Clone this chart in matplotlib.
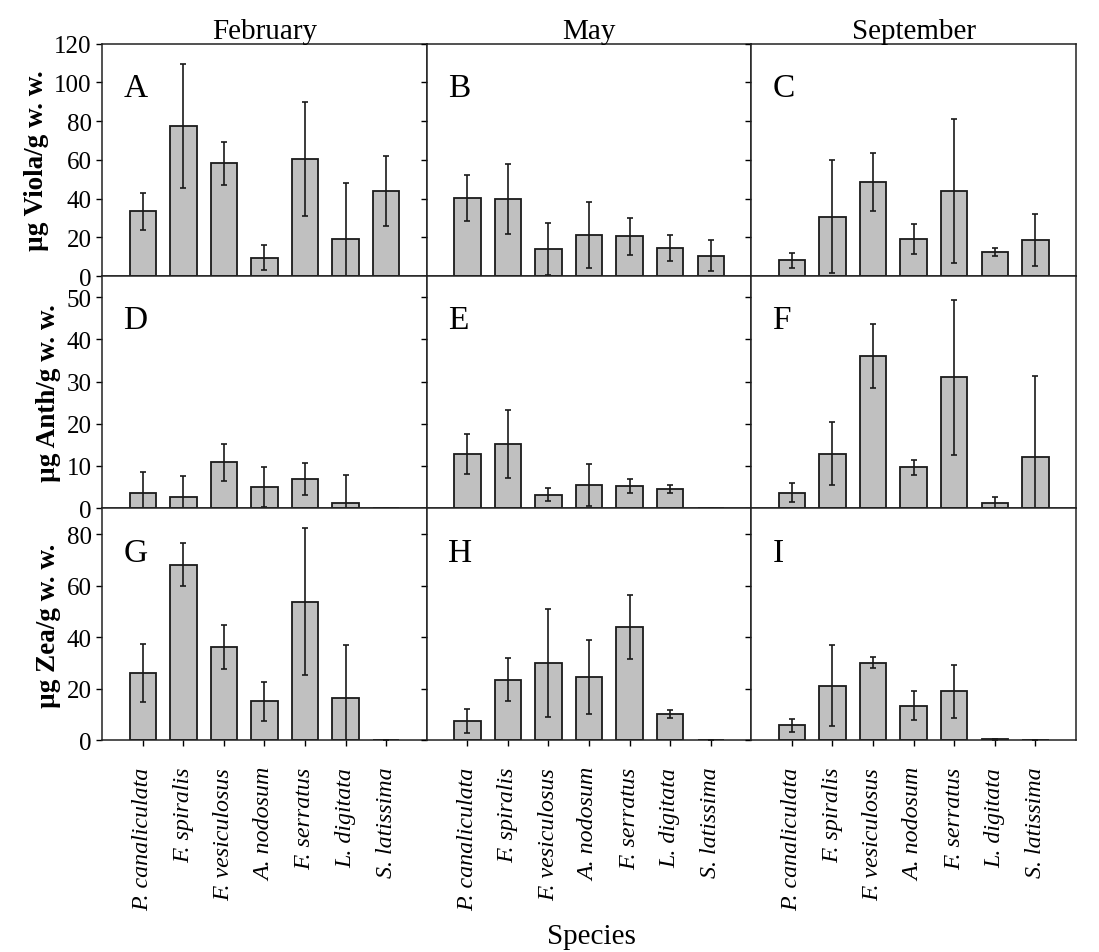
import numpy as np
import matplotlib.pyplot as plt

plt.rcParams.update({'font.family': ['Liberation Serif', 'DejaVu Serif'],
                     'font.size': 16,
                     'mathtext.fontset': 'stix'})

########################################
# DATA

species = ['P. canaliculata', 'F. spiralis', 'F. vesiculosus', 'A. nodosum',
           'F. serratus', 'L. digitata', 'S. latissima']
months = ['February', 'May', 'September']
pigments = ['Viola', 'Anth', 'Zea']
panel_letters = ['A', 'B', 'C', 'D', 'E', 'F', 'G', 'H', 'I']

# violaxanthin (row 1)
viola_feb = [33.5, 77.4, 58.2, 9.5, 60.4, 19.2, 43.9]
viola_feb_err = [9.5, 32.0, 11.0, 6.3, 29.5, 28.7, 17.9]
viola_may = [40.4, 39.7, 13.8, 21.2, 20.6, 14.5, 10.4]
viola_may_err = [12.0, 18.0, 13.5, 17.0, 9.6, 6.7, 8.0]
viola_sep = [8.1, 30.7, 48.7, 19.2, 43.9, 12.4, 18.5]
viola_sep_err = [4.0, 29.0, 15.0, 7.7, 37.0, 2.2, 13.4]

# antheraxanthin (row 2)
anth_feb = [3.7, 2.7, 10.9, 5.0, 6.9, 1.3, 0.0]
anth_feb_err = [4.8, 5.0, 4.4, 4.7, 3.8, 6.5, 0.0]
anth_may = [12.8, 15.2, 3.2, 5.5, 5.2, 4.6, 0.0]
anth_may_err = [4.8, 8.0, 1.5, 5.0, 1.7, 1.0, 0.0]
anth_sep = [3.7, 12.9, 36.0, 9.7, 31.0, 1.3, 12.2]
anth_sep_err = [2.3, 7.5, 7.6, 1.8, 18.3, 1.4, 19.0]

# zeaxanthin (row 3)
zea_feb = [26.2, 68.1, 36.3, 15.2, 53.8, 16.5, 0.0]
zea_feb_err = [11.3, 8.4, 8.6, 7.5, 28.6, 20.3, 0.0]
zea_may = [7.6, 23.6, 30.1, 24.6, 44.0, 10.2, 0.0]
zea_may_err = [4.7, 8.5, 21.0, 14.3, 12.4, 1.5, 0.0]
zea_sep = [5.8, 21.2, 30.2, 13.5, 19.0, 0.4, 0.0]
zea_sep_err = [2.4, 15.6, 2.2, 5.5, 10.4, 0.3, 0.0]

y_limits = [(0, 120), (0, 55), (0, 90)]
y_ticks = [np.arange(0, 121, 20), np.arange(0, 51, 10), np.arange(0, 81, 20)]

values = [[viola_feb, viola_may, viola_sep],
          [anth_feb, anth_may, anth_sep],
          [zea_feb, zea_may, zea_sep]]
errors = [[viola_feb_err, viola_may_err, viola_sep_err],
          [anth_feb_err, anth_may_err, anth_sep_err],
          [zea_feb_err, zea_may_err, zea_sep_err]]

########################################
# FIGURE

fig, axes = plt.subplots(3, 3, figsize=(10.99, 9.53), dpi=100,
                         sharex=True, sharey='row')
fig.subplots_adjust(left=0.093, right=0.979, top=0.953, bottom=0.222,
                    wspace=0, hspace=0)

x = np.arange(1, len(species) + 1)
for r in range(3):
    for c in range(3):
        ax = axes[r, c]
        ax.bar(x, values[r][c], width=0.65, color='#c0c0c0',
               edgecolor='#1a1a1a', linewidth=1.3, zorder=2)
        ax.errorbar(x, values[r][c], yerr=errors[r][c], fmt='none',
                    ecolor='#1a1a1a', elinewidth=1.2, capsize=2.5,
                    capthick=1.2, zorder=3)
        ax.set_xlim(0, 8)
        ax.set_ylim(*y_limits[r])
        ax.set_yticks(y_ticks[r])
        ax.tick_params(axis='both', direction='out', length=4, width=1,
                       labelsize=18)
        ax.tick_params(axis='x', bottom=(r == 2), pad=15)
        for sp in ax.spines.values():
            sp.set_linewidth(1.1)
            sp.set_color('#222222')
        ax.text(0.065, 0.81, panel_letters[3 * r + c], transform=ax.transAxes,
                fontsize=24, ha='left', va='center')
        if r == 0:
            ax.set_title(months[c], fontsize=21, pad=3)
    axes[r, 0].set_ylabel(f'µg {pigments[r]}/g w. w.', fontsize=19.5,
                          fontweight='bold', labelpad=4)

for ax in axes[2]:
    ax.set_xticks(x)
    ax.set_xticklabels(species, rotation=90, style='italic', fontsize=17.3)

fig.text(0.538, 0.0168, 'Species', fontsize=21, ha='center', va='center')

fig.savefig('out.png', dpi=100)
